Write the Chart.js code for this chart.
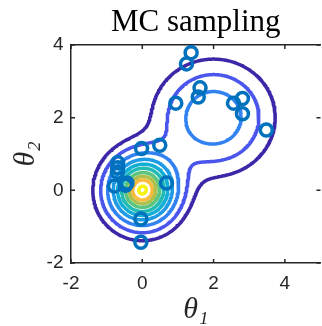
<!DOCTYPE html>
<html>
<head>
<meta charset="utf-8">
<script src="https://cdn.jsdelivr.net/npm/chart.js@4.4.1/dist/chart.umd.min.js"></script>
<style>
  html, body { margin: 0; padding: 0; background: #fff; overflow: hidden; }
  canvas { display: block; }
</style>
</head>
<body>
<canvas id="grafico" width="330" height="326" style="width:330px;height:326px"></canvas>
<script>
// eixos
const xRange = [-2, 5];
const yRange = [-2, 4];
const xTicks = [-2, 0, 2, 4];
const yTicks = [-2, 0, 2, 4];

// amostras MC
const sampleX = [1.37, 1.24, 1.62, 1.57, 0.94, 2.56, 2.81, 2.81, 3.48, 0.49, -0.02, -0.69, -0.69, -0.70, -0.78, -0.43, -0.47, 0.68, -0.04, -0.04];
const sampleY = [3.79, 3.48, 2.82, 2.57, 2.40, 2.40, 2.53, 2.11, 1.66, 1.24, 1.15, 0.76, 0.62, 0.50, 0.12, 0.20, 0.14, 0.20, -0.79, -1.43];

// densidade alvo: duas gaussianas
const peak = [1.0, 0.45];
const meanX = [0, 2];
const meanY = [0, 2];
const sdX = [0.66, 1.03];
const sdY = [0.66, 0.96];

// niveis das curvas de contorno
const levels = [0.11, 0.21, 0.34, 0.47, 0.58, 0.68, 0.78, 0.86, 0.925, 0.995];
const levelColors = ['#3e26a8', '#4a55ec', '#3282f2', '#1f9be6', '#13aed6', '#22bbb3', '#5cc47f', '#aebf4c', '#f9bb3b', '#f5f314'];

const axisColor = '#262626';

function density(x, y) {
  let v = 0;
  for (let c = 0; c < peak.length; c++) {
    const dx = (x - meanX[c]) / sdX[c];
    const dy = (y - meanY[c]) / sdY[c];
    v += peak[c] * Math.exp(-0.5 * (dx * dx + dy * dy));
  }
  return v;
}

// grade para o marching squares
const h = 0.025;
const nx = Math.round((xRange[1] - xRange[0]) / h);
const ny = Math.round((yRange[1] - yRange[0]) / h);
const grid = [];
for (let i = 0; i <= nx; i++) {
  grid[i] = new Float64Array(ny + 1);
  for (let j = 0; j <= ny; j++) grid[i][j] = density(xRange[0] + i * h, yRange[0] + j * h);
}

function contourLoops(level) {
  const pts = new Map(), links = new Map();
  const cross = (key, xa, ya, va, xb, yb, vb) => {
    if (!pts.has(key)) {
      const t = (level - va) / (vb - va);
      pts.set(key, { x: xa + t * (xb - xa), y: ya + t * (yb - ya) });
    }
    return key;
  };
  const link = (k1, k2) => {
    if (!links.has(k1)) links.set(k1, []);
    if (!links.has(k2)) links.set(k2, []);
    links.get(k1).push(k2);
    links.get(k2).push(k1);
  };
  for (let i = 0; i < nx; i++) {
    for (let j = 0; j < ny; j++) {
      const a = grid[i][j], b = grid[i + 1][j], c = grid[i + 1][j + 1], d = grid[i][j + 1];
      const xa = xRange[0] + i * h, xb = xa + h, ya = yRange[0] + j * h, yb = ya + h;
      const e = [];
      if ((a >= level) !== (b >= level)) e.push(cross('h' + i + '_' + j, xa, ya, a, xb, ya, b));
      if ((b >= level) !== (c >= level)) e.push(cross('v' + (i + 1) + '_' + j, xb, ya, b, xb, yb, c));
      if ((d >= level) !== (c >= level)) e.push(cross('h' + i + '_' + (j + 1), xa, yb, d, xb, yb, c));
      if ((a >= level) !== (d >= level)) e.push(cross('v' + i + '_' + j, xa, ya, a, xa, yb, d));
      if (e.length === 2) link(e[0], e[1]);
      else if (e.length === 4) {
        const m = (a + b + c + d) / 4;
        if ((m >= level) === (a >= level)) { link(e[0], e[1]); link(e[2], e[3]); }
        else { link(e[0], e[3]); link(e[1], e[2]); }
      }
    }
  }
  const used = new Set(), loops = [];
  for (const start of links.keys()) {
    if (used.has(start)) continue;
    const loop = [];
    let prev = null, cur = start;
    while (cur !== undefined && !used.has(cur)) {
      used.add(cur);
      const p = pts.get(cur);
      const last = loop[loop.length - 1];
      // descarta pontos quase repetidos (evita pontas nas juncoes)
      if (!last || Math.hypot(p.x - last.x, p.y - last.y) > 0.012) loop.push(p);
      const next = links.get(cur).find(k => k !== prev && !used.has(k));
      prev = cur;
      cur = next;
    }
    if (links.get(prev).includes(start)) loop.push(loop[0]);
    loops.push(loop);
  }
  return loops;
}

const datasets = [{
  type: 'scatter',
  data: sampleX.map((x, i) => ({ x: x, y: sampleY[i] })),
  pointRadius: 6,
  pointHoverRadius: 6,
  pointBorderWidth: 3.5,
  pointBorderColor: '#0072bd',
  pointBackgroundColor: 'rgba(0,0,0,0)',
  borderColor: '#0072bd',
  backgroundColor: 'rgba(0,0,0,0)',
  order: 0
}];

levels.forEach((lv, k) => {
  contourLoops(lv).forEach(loop => {
    datasets.push({
      type: 'line',
      data: loop,
      borderColor: levelColors[k],
      borderWidth: 3.5,
      borderJoinStyle: 'round',
      borderCapStyle: 'round',
      pointRadius: 0,
      fill: false,
      tension: 0,
      order: 1
    });
  });
});

// ticks para dentro, estilo matlab
const tickLen = 4;
const innerTicks = {
  id: 'innerTicks',
  afterDatasetsDraw(chart) {
    const { ctx, chartArea: a, scales } = chart;
    ctx.save();
    ctx.strokeStyle = axisColor;
    ctx.lineWidth = 1.5;
    ctx.beginPath();
    xTicks.forEach(v => {
      const px = scales.x.getPixelForValue(v);
      ctx.moveTo(px, a.bottom); ctx.lineTo(px, a.bottom - tickLen);
      ctx.moveTo(px, a.top); ctx.lineTo(px, a.top + tickLen);
    });
    yTicks.forEach(v => {
      const py = scales.y.getPixelForValue(v);
      ctx.moveTo(a.left, py); ctx.lineTo(a.left + tickLen, py);
      ctx.moveTo(a.right, py); ctx.lineTo(a.right - tickLen, py);
    });
    ctx.stroke();
    ctx.restore();
  }
};

const tickFont = { family: "'Liberation Sans', Arial, sans-serif", size: 19 };

new Chart(document.getElementById('grafico').getContext('2d'), {
  data: { datasets: datasets },
  plugins: [innerTicks],
  options: {
    responsive: false,
    animation: false,
    devicePixelRatio: 1,
    events: [],
    layout: { padding: { left: 0, right: 7, top: 0, bottom: 0 } },
    plugins: {
      legend: { display: false },
      tooltip: { enabled: false }
    },
    scales: {
      x: {
        type: 'linear', position: 'bottom', min: xRange[0], max: xRange[1],
        afterBuildTicks: s => { s.ticks = xTicks.map(v => ({ value: v })); },
        afterFit: s => { s.height = 63; },
        grid: { display: false, drawTicks: false },
        border: { display: true, color: axisColor, width: 1.5 },
        ticks: { color: axisColor, font: tickFont, padding: 9.5, maxRotation: 0 },
        title: {
          display: true, text: 'θ₁', color: axisColor,
          font: { family: "'Liberation Serif', serif", size: 30, style: 'italic', lineHeight: 1 },
          padding: { top: 0, bottom: 1 }
        }
      },
      x2: {
        type: 'linear', position: 'top', min: xRange[0], max: xRange[1],
        afterFit: s => { s.height = 45; },
        grid: { display: false, drawTicks: false },
        border: { display: true, color: axisColor, width: 1.5 },
        ticks: { display: false },
        title: {
          display: true, text: 'MC sampling', color: '#000',
          font: { family: "'Liberation Serif', serif", size: 31, lineHeight: 1 },
          padding: { top: 7, bottom: 0 }
        }
      },
      y: {
        type: 'linear', position: 'left', min: yRange[0], max: yRange[1],
        afterBuildTicks: s => { s.ticks = yTicks.map(v => ({ value: v })); },
        afterFit: s => { s.width = 71; },
        grid: { display: false, drawTicks: false },
        border: { display: true, color: axisColor, width: 1.5 },
        ticks: { color: axisColor, font: tickFont, padding: 7.5 },
        title: {
          display: true, text: 'θ₂', color: axisColor,
          font: { family: "'Liberation Serif', serif", size: 30, style: 'italic', lineHeight: 1 },
          padding: { top: 11, bottom: 0 }
        }
      }
    }
  }
});
</script>
</body>
</html>
